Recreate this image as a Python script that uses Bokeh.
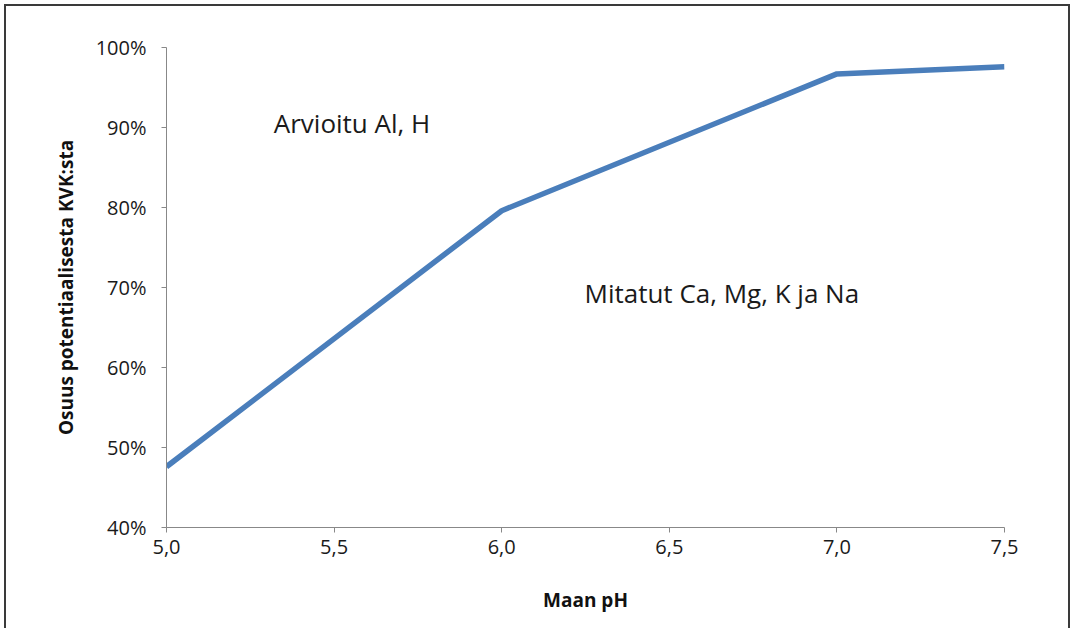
from bokeh.plotting import figure
from bokeh.models import Range1d, FixedTicker, CustomJSTickFormatter, Title
from bokeh.core.properties import value
from bokeh.embed import file_html
from bokeh.resources import INLINE

# data
ph = [5.0, 6.0, 7.0, 7.5]
share_pct = [47.6, 79.6, 96.7, 97.6]
x_ticks = [5.0, 5.5, 6.0, 6.5, 7.0, 7.5]
y_ticks = [40, 50, 60, 70, 80, 90, 100]
labels = ["Arvioitu Al, H", "Mitatut Ca, Mg, K ja Na"]
label_x = [5.32, 6.247]
label_y = [90.6, 69.3]
y_title = "Osuus potentiaalisesta KVK:sta"
x_title = "Maan pH"

FONT = "Open Sans"
AX = "#888888"
B = "#3a3a3a"

p = figure(width=1074, height=628, output_backend="svg", toolbar_location=None,
           x_range=Range1d(5.0, 7.5), y_range=Range1d(40, 100),
           min_border_left=166, min_border_right=70, min_border_top=47, min_border_bottom=101)
p.outline_line_color = None
p.xgrid.visible = False
p.ygrid.visible = False
p.background_fill_color = "white"
p.border_fill_color = None
grad = f"linear-gradient({B},{B})"
p.styles = {
    "background": (f"{grad} left 4px top 4px / 2px 100% no-repeat, "
                   f"{grad} left 4px top 4px / calc(100% - 8px) 2px no-repeat, "
                   f"{grad} right 4px top 4px / 2px 100% no-repeat, white"),
}

p.line(ph, share_pct, line_color="#4A7EBB", line_width=5.5, line_join="round")

p.text(x=label_x, y=label_y, text=labels, text_font=value(FONT), text_font_size="26px",
       text_color="#1a1a1a", text_baseline="middle", text_align="left")

for ax in (p.xaxis[0], p.yaxis[0]):
    ax.axis_line_color = AX
    ax.major_tick_line_color = AX
    ax.minor_tick_line_color = None
    ax.major_tick_out = 5
    ax.major_tick_in = 0
    ax.major_label_text_font = FONT
    ax.major_label_text_font_size = "20px"
    ax.major_label_text_color = "#1a1a1a"
    ax.axis_label_text_font = FONT
    ax.axis_label_text_font_size = "19px"
    ax.axis_label_text_font_style = "bold"
    ax.axis_label_text_color = "#111111"

p.xaxis.ticker = FixedTicker(ticks=x_ticks)
p.yaxis.ticker = FixedTicker(ticks=y_ticks)
p.xaxis.formatter = CustomJSTickFormatter(code="return tick.toFixed(1).replace('.', ',');")
p.yaxis.formatter = CustomJSTickFormatter(code="return Math.round(tick) + '%';")
p.xaxis.axis_label = x_title
p.xaxis.major_label_standoff = 7
p.yaxis.major_label_standoff = 15
p.xaxis.axis_label_standoff = 30

ytitle = Title(text=y_title, align="center", offset=32, standoff=28,
               text_font=FONT, text_font_size="19px", text_font_style="bold",
               text_color="#111111")
p.add_layout(ytitle, "left")

open("out.html", "w").write(file_html(p, INLINE))
